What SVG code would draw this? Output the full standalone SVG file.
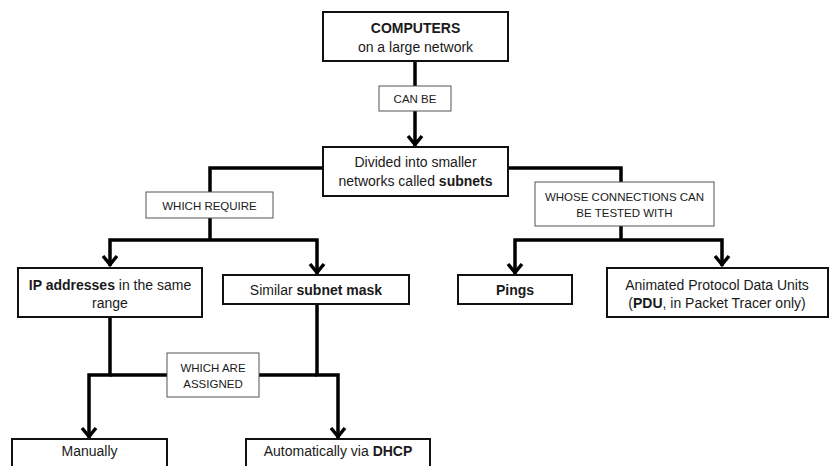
<svg xmlns="http://www.w3.org/2000/svg" width="830" height="466" viewBox="0 0 830 466">
<defs>
<marker id="arr" viewBox="-12 -9 14 18" refX="0" refY="0" markerWidth="14" markerHeight="18" markerUnits="userSpaceOnUse" orient="auto">
<path d="M-10,-7 L-1.5,0 L-10,7" fill="none" stroke="#000" stroke-width="3.5" stroke-linejoin="miter"/>
</marker>
<style>
.node{fill:#fff;stroke:#111;stroke-width:2}
.lab{fill:#fff;stroke:#555;stroke-width:1}
.t{font-family:"Liberation Sans",Arial,sans-serif;font-size:14px;fill:#1a1a1a;text-anchor:middle}
.s{font-family:"Liberation Sans",Arial,sans-serif;font-size:11.5px;fill:#1a1a1a;text-anchor:middle}
.b{font-weight:bold}
.c{fill:none;stroke:#000;stroke-width:3.5;stroke-linejoin:miter}
.ca{fill:none;stroke:#000;stroke-width:3.5;stroke-linejoin:miter;marker-end:url(#arr)}
</style>
</defs>
<rect width="830" height="466" fill="#fff"/>
<g id="connectors">
<path class="ca" d="M415,61 V146"/>
<path class="c" d="M323,168 H210 V240"/>
<path class="ca" d="M210,240 H110 V266"/>
<path class="ca" d="M210,240 H317 V274"/>
<path class="c" d="M508,168 H621 V240"/>
<path class="ca" d="M621,240 H515 V274"/>
<path class="ca" d="M621,240 H722 V266"/>
<path class="ca" d="M110,317 V375 H89 V438"/>
<path class="ca" d="M317,304 V375 H338 V438"/>
<path class="c" d="M110,375 H317"/>
</g>
<g id="computers">
<rect class="node" x="323" y="12" width="185" height="49"/>
<text class="t b" x="415.5" y="33">COMPUTERS</text>
<text class="t" x="415.5" y="52">on a large network</text>
</g>
<g id="can-be">
<rect class="lab" x="379" y="86" width="72" height="25"/>
<text class="s" x="415" y="103">CAN BE</text>
</g>
<g id="divided">
<rect class="node" x="323" y="147" width="185" height="49"/>
<text class="t" x="415.5" y="167">Divided into smaller</text>
<text class="t" x="415.5" y="186">networks called <tspan class="b">subnets</tspan></text>
</g>
<g id="which-require">
<rect class="lab" x="146" y="192" width="127" height="26"/>
<text class="s" x="209.5" y="210">WHICH REQUIRE</text>
</g>
<g id="whose">
<rect class="lab" x="535" y="182" width="179" height="44"/>
<text class="s" x="624.5" y="201">WHOSE CONNECTIONS CAN</text>
<text class="s" x="624.5" y="217">BE TESTED WITH</text>
</g>
<g id="ip">
<rect class="node" x="18" y="268" width="184" height="49"/>
<text class="t" x="110" y="290"><tspan class="b">IP addresses</tspan> in the same</text>
<text class="t" x="110" y="308">range</text>
</g>
<g id="similar">
<rect class="node" x="223" y="275" width="186" height="29"/>
<text class="t" x="316" y="294.5">Similar <tspan class="b">subnet mask</tspan></text>
</g>
<g id="pings">
<rect class="node" x="458" y="275" width="114" height="29"/>
<text class="t b" x="515" y="294.5">Pings</text>
</g>
<g id="animated">
<rect class="node" x="607" y="268" width="221" height="49"/>
<text class="t" x="717" y="290">Animated Protocol Data Units</text>
<text class="t" x="717" y="308">(<tspan class="b">PDU</tspan>, in Packet Tracer only)</text>
</g>
<g id="which-are">
<rect class="lab" x="167" y="353" width="92" height="44"/>
<text class="s" x="213" y="372">WHICH ARE</text>
<text class="s" x="213" y="388">ASSIGNED</text>
</g>
<g id="manually">
<rect class="node" x="12" y="439" width="155" height="40"/>
<text class="t" x="89.5" y="456">Manually</text>
</g>
<g id="automatically">
<rect class="node" x="246" y="439" width="184" height="40"/>
<text class="t" x="338" y="456">Automatically via <tspan class="b">DHCP</tspan></text>
</g>
</svg>
